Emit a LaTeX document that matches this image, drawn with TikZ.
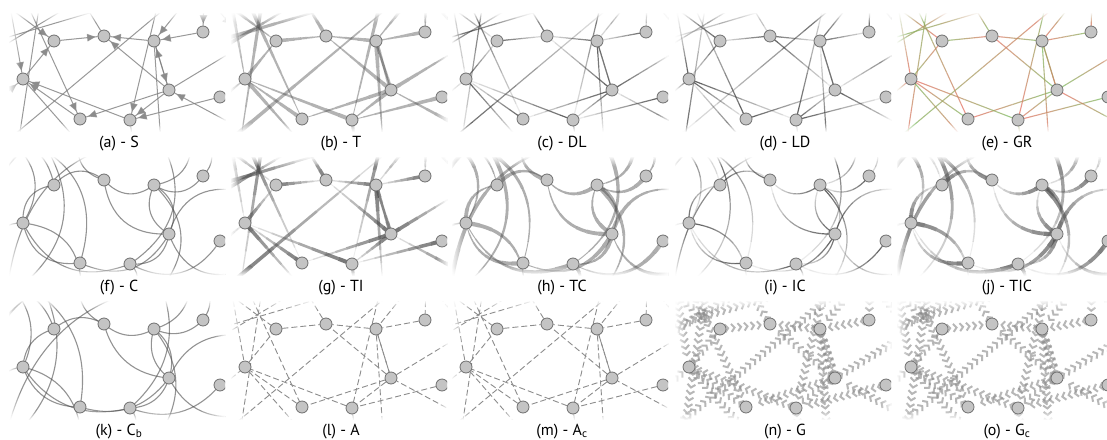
\documentclass[tikz,border=0pt]{standalone}
\usepackage{fontspec}
\setmainfont{PT Sans}
\usetikzlibrary{calc,decorations.markings,arrows.meta,fadings}
\pgfdeclarelayer{bg}
\pgfdeclarelayer{edges}
\pgfsetlayers{bg,edges,main}
\definecolor{grgreen}{RGB}{120,190,95}
\definecolor{grred}{RGB}{235,110,100}
\definecolor{vfill}{RGB}{196,196,196}
\definecolor{vline}{RGB}{112,112,112}
\colorlet{ecA}{black}
\colorlet{ecB}{black}
\tikzfading[name=fadeL, left color=transparent!0, right color=transparent!100]
\tikzfading[name=fadeR, left color=transparent!100, right color=transparent!0]
\tikzfading[name=fadeT, top color=transparent!0, bottom color=transparent!100]
\tikzfading[name=fadeB, top color=transparent!100, bottom color=transparent!0]
\tikzset{
  vtx/.style={circle, minimum size=12pt, inner sep=0pt, fill=vfill, draw=vline, line width=0.8pt},
  lbl/.style={font=\fontsize{16}{18}\selectfont, anchor=base, inner sep=0pt},
  eS/.style={draw=black!50, draw opacity=0.8, line width=1pt, postaction={decorate},
    decoration={markings, mark=at position -2pt with {\arrow[black!45]{Triangle[length=8.5pt,width=7.5pt]}}}},
  eA/.style={draw=black!45, line width=0.9pt, dash pattern=on 6pt off 3pt},
  eG/.style={postaction={decorate},
    decoration={markings, mark=between positions 3pt and 1 step 6.5pt with {\arrow[black!45]{Straight Barb[length=3.2pt,width=8pt,line width=2pt]}}}}
}
\newcommand\edgelist{A/B, C/B, D/C, E/A, F/B, F/C, C/F, F/H, F/I, G/I, I/E, H/E, p1/E, p2/A, p3/H, p4/p5, p6/p7, B/p8, p9/p10, p11/p12, p13/D, p14/C, C/p15, p16/I, F/p17, p18/F, I/p19, E/p20, p21/E, p22/p23}
\newcommand\setseg[8]{\def\eN{#1}\def\eh{#2}\def\ewA{#3}\def\ewB{#4}\def\eoA{#5}\def\eoB{#6}\colorlet{ecA}{#7}\colorlet{ecB}{#8}}
\newcommand\segedge[2]{%
  \coordinate (em) at ($(#1)!0.5!(#2)$);
  \coordinate (ec) at ($(em)!\eh!90:(#2)$);
  \foreach \k in {1,...,\eN}{%
    \pgfmathsetmacro\zua{(\k-1)/\eN}%
    \pgfmathsetmacro\zub{\k/\eN}%
    \pgfmathsetmacro\zas{(1-\zua)*(1-\zua)}%
    \pgfmathsetmacro\zac{2*\zua*(1-\zua)}%
    \pgfmathsetmacro\zat{\zua*\zua}%
    \pgfmathsetmacro\zbs{(1-\zub)*(1-\zub)}%
    \pgfmathsetmacro\zbc{2*\zub*(1-\zub)}%
    \pgfmathsetmacro\zbt{\zub*\zub}%
    \pgfmathsetmacro\zqs{(1-\zua)*(1-\zub)}%
    \pgfmathsetmacro\zqc{(1-\zua)*\zub+\zua*(1-\zub)}%
    \pgfmathsetmacro\zqt{\zua*\zub}%
    \pgfmathsetmacro\zxs{\zas/3+2*\zqs/3}%
    \pgfmathsetmacro\zxc{\zac/3+2*\zqc/3}%
    \pgfmathsetmacro\zxt{\zat/3+2*\zqt/3}%
    \pgfmathsetmacro\zys{\zbs/3+2*\zqs/3}%
    \pgfmathsetmacro\zyc{\zbc/3+2*\zqc/3}%
    \pgfmathsetmacro\zyt{\zbt/3+2*\zqt/3}%
    \pgfmathsetmacro\zuf{(\k-0.5)/\eN}%
    \pgfmathsetmacro\zuw{\ewA+(\ewB-\ewA)*\zuf}%
    \pgfmathsetmacro\zuo{\eoA+(\eoB-\eoA)*\zuf}%
    \pgfmathsetmacro\zup{100*(1-\zuf)}%
    \draw[line width=\zuw pt, draw opacity=\zuo, draw=ecA!\zup!ecB, line cap=butt]
      ($\zas*(#1)+\zac*(ec)+\zat*(#2)$) .. controls ($\zxs*(#1)+\zxc*(ec)+\zxt*(#2)$) and ($\zys*(#1)+\zyc*(ec)+\zyt*(#2)$) .. ($\zbs*(#1)+\zbc*(ec)+\zbt*(#2)$);
  }%
}
\newcommand\drawS{\foreach \es/\et in \edgelist{\draw[eS] (\es) -- (\et);}}
\newcommand\drawA{\foreach \es/\et in \edgelist{\draw[eA] (\es) -- (\et);}}
\newcommand\drawG{\begin{scope}[opacity=0.62]\foreach \es/\et in \edgelist{\path[eG] (\es) -- (\et);}\end{scope}}
\newcommand\drawSeg[8]{\setseg{#1}{#2}{#3}{#4}{#5}{#6}{#7}{#8}\foreach \es/\et in \edgelist{\segedge{\es}{\et}}}
\newcommand\vertices{%
  \node[vtx] (A) at (54,41) {};
  \node[vtx] (B) at (104,36) {};
  \node[vtx] (C) at (154,41) {};
  \node[vtx] (D) at (203,32) {};
  \node[vtx] (E) at (23,79) {};
  \node[vtx] (F) at (169,90) {};
  \node[vtx] (G) at (220,97) {};
  \node[vtx] (H) at (80,119) {};
  \node[vtx] (I) at (130,120) {};
}
\newcommand\farpoints{%
  \coordinate (p1) at (8,-5);
  \coordinate (p2) at (-5,-3);
  \coordinate (p3) at (23,-5);
  \coordinate (p4) at (41,-5);
  \coordinate (p5) at (18,145);
  \coordinate (p6) at (8,140);
  \coordinate (p7) at (181,-5);
  \coordinate (p8) at (79,-5);
  \coordinate (p9) at (-5,51);
  \coordinate (p10) at (88,-5);
  \coordinate (p11) at (-5,41);
  \coordinate (p12) at (150,-5);
  \coordinate (p13) at (204,-5);
  \coordinate (p14) at (191,-5);
  \coordinate (p15) at (161,145);
  \coordinate (p16) at (160,-5);
  \coordinate (p17) at (240,47);
  \coordinate (p18) at (240,128);
  \coordinate (p19) at (133,145);
  \coordinate (p20) at (81,145);
  \coordinate (p21) at (-5,102);
  \coordinate (p22) at (212,2);
  \coordinate (p23) at (232,27);
}
\newcommand\softborder{%
  \fill[white, path fading=fadeL] (8,12) rectangle (20,132);
  \fill[white, path fading=fadeR] (214,12) rectangle (226,132);
  \fill[white, path fading=fadeT] (8,12) rectangle (226,22);
  \fill[white, path fading=fadeB] (8,122) rectangle (226,132);
}
\newcommand\panel[5]{%
  \begin{scope}[shift={(#1,#2)}]
    \begin{scope}
      \clip (9,13) rectangle (225,131);
      \farpoints
      \vertices
      \begin{pgfonlayer}{edges}
        \begin{scope}
          \clip (9,13) rectangle (225,131);
          #3
          \softborder
        \end{scope}
      \end{pgfonlayer}
    \end{scope}
    \node[lbl] (#5) at (119,147) {#4};
  \end{scope}}
\begin{document}
\begin{tikzpicture}[x=1pt,y=-1pt]
\begin{pgfonlayer}{bg}
\fill[white] (0,0) rectangle (1107,439);
\end{pgfonlayer}
\useasboundingbox (0,0) rectangle (1107,439);
% row 1
\panel{0}{0}{\drawS}{(a) - S}{la}
\panel{222}{0}{\drawSeg{8}{0}{4.2}{0.6}{0.42}{0.42}{black!70}{black!70}}{(b) - T}{lb}
\panel{443}{0}{\drawSeg{8}{0}{1.2}{1.2}{0.85}{0.06}{black!75}{black!75}}{(c) - DL}{lc}
\panel{666}{0}{\drawSeg{8}{0}{1.2}{1.2}{0.06}{0.85}{black!75}{black!75}}{(d) - LD}{ld}
\panel{888}{0}{\drawSeg{8}{0}{1.1}{1.1}{0.75}{0.75}{grgreen}{grred}}{(e) - GR}{le}
% row 2
\panel{0}{144}{\drawSeg{1}{0.9}{1.1}{1.1}{0.6}{0.6}{black!70}{black!70}}{(f) - C}{lf}
\panel{222}{144}{\drawSeg{8}{0}{4.2}{0.6}{0.8}{0.06}{black!70}{black!70}}{(g) - TI}{lg}
\panel{443}{144}{\drawSeg{8}{0.9}{4.5}{0.7}{0.45}{0.45}{black!70}{black!70}}{(h) - TC}{lh}
\panel{666}{144}{\drawSeg{8}{0.9}{1.2}{1.2}{0.85}{0.05}{black!75}{black!75}}{(i) - IC}{li}
\panel{888}{144}{\drawSeg{8}{0.9}{4.5}{0.7}{0.75}{0.06}{black!70}{black!70}}{(j) - TIC}{lj}
% row 3
\panel{0}{288}{\drawSeg{1}{0.7}{1.1}{1.1}{0.6}{0.6}{black!70}{black!70}}{(k) - C\textsubscript{b}}{lk}
\panel{222}{288}{\drawA}{(l) - A}{ll}
\panel{443}{288}{\drawA}{(m) - A\textsubscript{c}}{lm}
\panel{666}{288}{\drawG}{(n) - G}{ln}
\panel{888}{288}{\drawG}{(o) - G\textsubscript{c}}{lo}
\end{tikzpicture}
\end{document}
